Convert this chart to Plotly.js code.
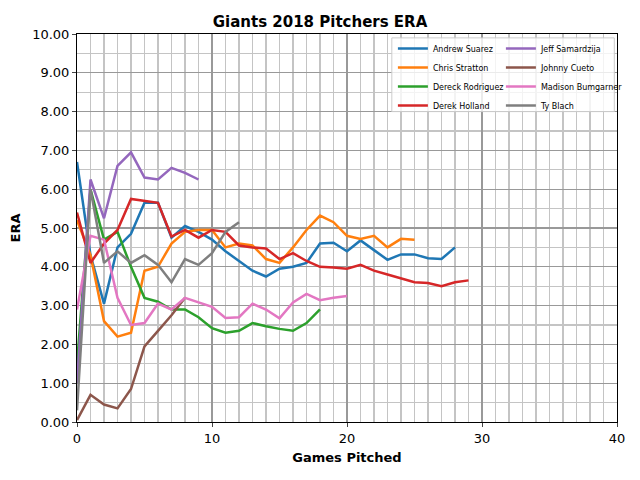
<!DOCTYPE html>
<html><head><script src="https://cdn.plot.ly/plotly-3.0.1.min.js"></script></head>
<body style="margin:0"><div id="chart" style="width:640px;height:480px"></div>
<script>
var names = ['Andrew Suarez','Chris Stratton','Dereck Rodriguez','Derek Holland','Jeff Samardzija','Johnny Cueto','Madison Bumgarner','Ty Blach'];
var colors = ['#1f77b4','#ff7f0e','#2ca02c','#d62728','#9467bd','#8c564b','#e377c2','#7f7f7f'];
var suarez = [6.7,4.3,3.05,4.5,4.85,5.65,5.65,4.75,5.05,4.9,4.7,4.4,4.15,3.9,3.75,3.95,4.0,4.1,4.6,4.62,4.4,4.68,4.43,4.18,4.32,4.32,4.22,4.2,4.5];
var stratton = [5.2,4.3,2.6,2.2,2.3,3.9,4.0,4.6,4.9,4.95,4.95,4.5,4.6,4.55,4.2,4.1,4.5,4.95,5.32,5.15,4.8,4.72,4.8,4.5,4.72,4.7];
var rodriguez = [1.5,6.0,4.7,4.9,4.0,3.2,3.1,2.9,2.9,2.7,2.42,2.3,2.35,2.55,2.47,2.4,2.35,2.55,2.9];
var holland = [5.4,4.1,4.6,4.95,5.75,5.7,5.65,4.78,4.95,4.75,4.95,4.9,4.55,4.5,4.47,4.2,4.35,4.15,4.0,3.98,3.95,4.05,3.9,3.8,3.7,3.6,3.58,3.5,3.6,3.65];
var samardzija = [1.0,6.25,5.25,6.6,6.95,6.3,6.25,6.55,6.42,6.25];
var cueto = [0.05,0.7,0.45,0.35,0.85,1.95,2.35,2.75,3.2];
var bumgarner = [2.9,4.8,4.7,3.2,2.5,2.55,3.05,2.9,3.2,3.08,2.97,2.68,2.7,3.05,2.9,2.67,3.08,3.3,3.14,3.2,3.25];
var blach = [0.3,6.0,4.1,4.4,4.1,4.3,4.05,3.6,4.2,4.05,4.35,4.9,5.15];
var series = [suarez,stratton,rodriguez,holland,samardzija,cueto,bumgarner,blach];

var traces = series.map(function(s,i){
    return {
        x: s.map(function(v,j){return j;}),
        y: s,
        name: names[i],
        mode: 'lines',
        legend: i < 4 ? 'legend' : 'legend2',
        line: {color: colors[i], width: 2.5}
    };
});

var legendBase = {
    y: 1.0, yanchor: 'top', bgcolor: 'rgba(255,255,255,0)', borderwidth: 0,
    font: {size: 8}, tracegroupgap: 0, itemwidth: 30
};

var layout = {
    title: {text: 'Giants 2018 Pitchers ERA', font: {family: 'DejaVu Sans', size: 15, color: '#000', weight: 'bold'}, y: 0.965},
    font: {family: 'DejaVu Sans', size: 13, color: '#000'},
    margin: {l: 77, r: 20, t: 34, b: 58},
    plot_bgcolor: '#fff',
    paper_bgcolor: '#fff',
    xaxis: {
        range: [0, 40], dtick: 10, showline: true, mirror: true, linecolor: '#000', linewidth: 1,
        ticks: 'outside', ticklen: 4, zeroline: false,
        gridcolor: '#999', gridwidth: 1.3,
        minor: {dtick: 1, showgrid: true, gridcolor: '#c4c4c4', gridwidth: 1.2},
        title: {text: 'Games Pitched', font: {size: 13, weight: 'bold'}, standoff: 8}
    },
    yaxis: {
        range: [0, 10], dtick: 1, tickformat: '.2f', showline: true, mirror: true, linecolor: '#000', linewidth: 1,
        ticks: 'outside', ticklen: 4, zeroline: false,
        gridcolor: '#999', gridwidth: 1.3,
        minor: {dtick: 0.5, showgrid: true, gridcolor: '#c4c4c4', gridwidth: 1.2},
        title: {text: 'ERA', font: {size: 13, weight: 'bold'}, standoff: 8}
    },
    showlegend: true,
    legend: Object.assign({x: 0.585, xanchor: 'left'}, legendBase),
    legend2: Object.assign({x: 0.785, xanchor: 'left'}, legendBase),
    shapes: [{type: 'rect', xref: 'paper', yref: 'paper', x0: 0.583, x1: 0.995, y0: 0.8, y1: 0.99,
              line: {color: '#ccc', width: 1}, fillcolor: 'rgba(255,255,255,0.8)', layer: 'above'}]
};
Plotly.newPlot('chart', traces, layout, {displayModeBar: false, staticPlot: true});
</script></body></html>
